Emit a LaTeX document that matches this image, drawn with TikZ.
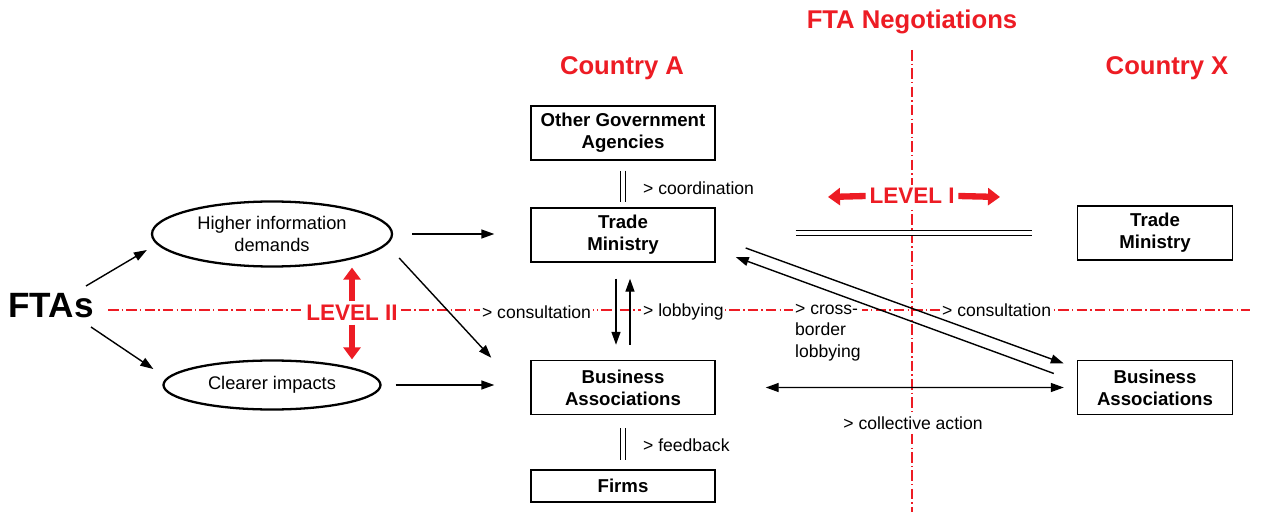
\documentclass[tikz,border=0pt]{standalone}
\usepackage{fontspec}
\setmainfont{Liberation Sans}
\usetikzlibrary{arrows.meta,shapes,positioning}
\definecolor{ftared}{RGB}{237,28,36}
\tikzset{
  actor/.style={
    % The shape:
    rectangle,
    % The size:
    minimum width=36.8mm, minimum height=10.8mm,
    % The border:
    draw=black, line width=0.8pt,
    % Font
    font=\fontsize{10.6}{12.4}\selectfont\bfseries, align=center, inner sep=1pt
  },
  effect/.style={
    % The shape:
    ellipse,
    % The border:
    draw=black, line width=1.3pt,
    % Font
    font=\fontsize{10.4}{12.4}\selectfont, align=center, inner sep=0pt
  },
  remark/.style={font=\fontsize{10}{12}\selectfont, fill=white, inner sep=1pt, align=left},
  level/.style={text=ftared, font=\fontsize{12.8}{14}\selectfont\bfseries, fill=white, inner sep=2pt},
  country/.style={text=ftared, font=\fontsize{14.6}{16}\selectfont\bfseries},
  border/.style={draw=ftared, line width=0.6pt, dash pattern=on 6pt off 1.8pt on 0.8pt off 1.8pt},
  pair/.style={draw, double, line width=0.6pt, double distance=1.8pt},
  redarrow/.style={draw=ftared, line width=3.6pt, -{Triangle[length=2.4mm,width=3.4mm]}}
}
\tikzstyle{line} = [draw, line width=0.8pt, -{Triangle[length=2.6mm,width=1.8mm]}]
\tikzstyle{both} = [draw, line width=0.8pt, {Triangle[length=2.6mm,width=1.8mm]}-{Triangle[length=2.6mm,width=1.8mm]}]

\begin{document}
\begin{tikzpicture}[x=0.2mm, y=-0.2mm]
\useasboundingbox (0,0) rectangle (1262,512);
% level borders
\draw[border] (108,310) -- (1250,310);
\draw[border] (912,50) -- (912,512);
% headings
\node [country] (neg) at (912,22) {FTA Negotiations};
\node [country] (cta) at (622,68) {Country A};
\node [country] (ctx) at (1167,68) {Country X};
% country A
\node [actor] (oga) at (623,133) {Other Government\\Agencies};
\node [actor, below of=oga, node distance=20.4mm] (tma) {Trade\\Ministry};
\node [actor, below of=tma, node distance=30.5mm] (baa) {Business\\Associations};
\node [actor, below of=baa, node distance=19.7mm, minimum height=6.4mm] (frm) {Firms};
% country X
\node [actor, minimum width=31mm] (tmx) at (1155,233) {Trade\\Ministry};
\node [actor, minimum width=31mm, below of=tmx, node distance=30.9mm] (bax) {Business\\Associations};
% effects of FTAs
\node [font=\fontsize{20}{22}\selectfont\bfseries, fill=white, inner sep=1pt] (fta) at (51,306) {FTAs};
\node [effect, minimum width=48mm, minimum height=13mm] (hid) at (272,234) {Higher information\\demands};
\node [effect, minimum width=43.4mm, minimum height=9.8mm] (clr) at (272,385) {Clearer impacts};
% levels
\node [level] (lv2) at (352,313) {LEVEL II};
\node [level] (lv1) at (912,196) {LEVEL I};
\coordinate (lw) at (828,197);
\coordinate (le) at (1000,197);
% labels
\node [remark, anchor=west] (crd) at (641,188) {> coordination};
\node [remark, anchor=west] (fdb) at (641,445) {> feedback};
\node [remark, anchor=west] (cns) at (480,312) {> consultation};
\node [remark, anchor=west] (lob) at (641,312) {> lobbying};
\node [remark, anchor=base west] (cbl) at (793,357) {> cross-\\border\\lobbying};
\node [remark, anchor=west] (cnx) at (940,310) {> consultation};
\node [remark] (col) at (913,423) {> collective action};
% red level arrows
\path [redarrow] (lv2.north) -- (lv2.north |- hid.south);
\path [redarrow] (lv2.south) -- (lv2.south |- clr.north);
\path [redarrow] (lv1.west) -- (lw);
\path [redarrow] (lv1.east) -- (le);
% Draw edges
\path [line] ([shift={(35,-20)}]fta.center) -- ([shift={(-4,16)}]hid.west);
\path [line] ([shift={(40,21)}]fta.center) -- ([shift={(-9,-16)}]clr.west);
\path [line, shorten <=3.8mm, shorten >=7.2mm] (hid.east) -- (hid.east -| tma.west);
\path [line] ([shift={(6,24)}]hid.east) -- ([shift={(-39,-2)}]baa.north west);
\path [line, shorten <=2.8mm, shorten >=7.2mm] (clr.east) -- (clr.east -| baa.west);
\path [line] ([shift={(-7,16)}]tma.south) -- ([shift={(-7,-15)}]baa.north);
\path [line] ([shift={(7,-15)}]baa.north) -- ([shift={(7,16)}]tma.south);
\path [line] ([shift={(30,13)}]tma.east) -- ([shift={(-13,-24)}]bax.west);
\path [line] ([shift={(-23,-14)}]bax.west) -- ([shift={(20,22)}]tma.east);
\path [both, shorten <=10mm, shorten >=2.6mm] (baa.east) -- (bax.west);
\path [pair, shorten <=2mm, shorten >=1mm] (oga) -- (tma);
\path [pair, shorten <=2.6mm, shorten >=1.8mm] (baa) -- (frm);
\path [pair] ([xshift=16mm]tma.east |- tmx.west) -- ([xshift=-9mm]tmx.west);
\end{tikzpicture}
\end{document}
